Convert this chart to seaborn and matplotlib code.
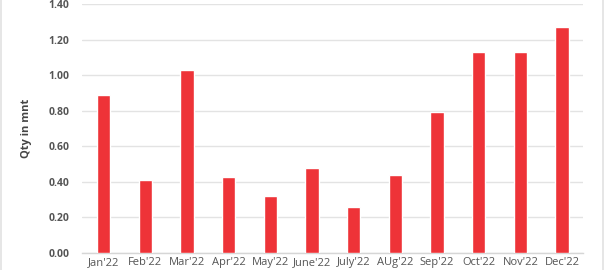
import matplotlib
matplotlib.use("Agg")
import matplotlib.pyplot as plt
from matplotlib.lines import Line2D
import seaborn as sns
import pandas as pd

months = ["Jan'22", "Feb'22", "Mar'22", "Apr'22", "May'22", "June'22", "July'22",
          "AUg'22", "Sep'22", "Oct'22", "Nov'22", "Dec'22"]
qty = [0.89, 0.41, 1.03, 0.43, 0.32, 0.48, 0.26, 0.44, 0.79, 1.13, 1.13, 1.27]
yticks = [0.0, 0.2, 0.4, 0.6, 0.8, 1.0, 1.2, 1.4]

sns.set_style("white")
plt.rcParams['font.family'] = ['Open Sans', 'DejaVu Sans']

df = pd.DataFrame({"month": months, "qty": qty})

fig = plt.figure(figsize=(6.04, 2.70), dpi=100)
ax = fig.add_axes([82/604, 1 - 253/270, (583-82)/604, (253-4)/270])

sns.barplot(data=df, x="month", y="qty", color="#EE3338", width=0.32,
            saturation=1, ax=ax, zorder=3)

ax.set_ylim(0, 1.4)
ax.set_xlim(-0.52, 11.5)
ax.set_yticks(yticks)
ax.set_yticklabels([f"{v:.2f}" for v in yticks], fontsize=7.5, fontweight="bold", color="#555555")
ax.tick_params(axis="x", labelsize=8, labelcolor="#555555", length=0, pad=3)
ax.tick_params(axis="y", length=0, pad=9)
ax.set_xlabel("")
ax.set_ylabel("Qty in mnt", fontsize=8, fontweight="bold", color="#444444", labelpad=12)
ax.grid(axis="y", color="#e3e3e3", linewidth=1, zorder=0)
ax.set_axisbelow(True)
for s in ["top", "right", "left"]:
    ax.spines[s].set_visible(False)
ax.spines["bottom"].set_color("#d6d6d6")
ax.spines["bottom"].set_linewidth(1)

# faint frame lines on the left and right edges of the image
fig.add_artist(Line2D([0.001, 0.001], [0, 1], transform=fig.transFigure, color="#e2e2e2", linewidth=1.2))
fig.add_artist(Line2D([0.998, 0.998], [0, 1], transform=fig.transFigure, color="#e2e2e2", linewidth=1.2))

fig.savefig("out.png", dpi=100, facecolor="white")
